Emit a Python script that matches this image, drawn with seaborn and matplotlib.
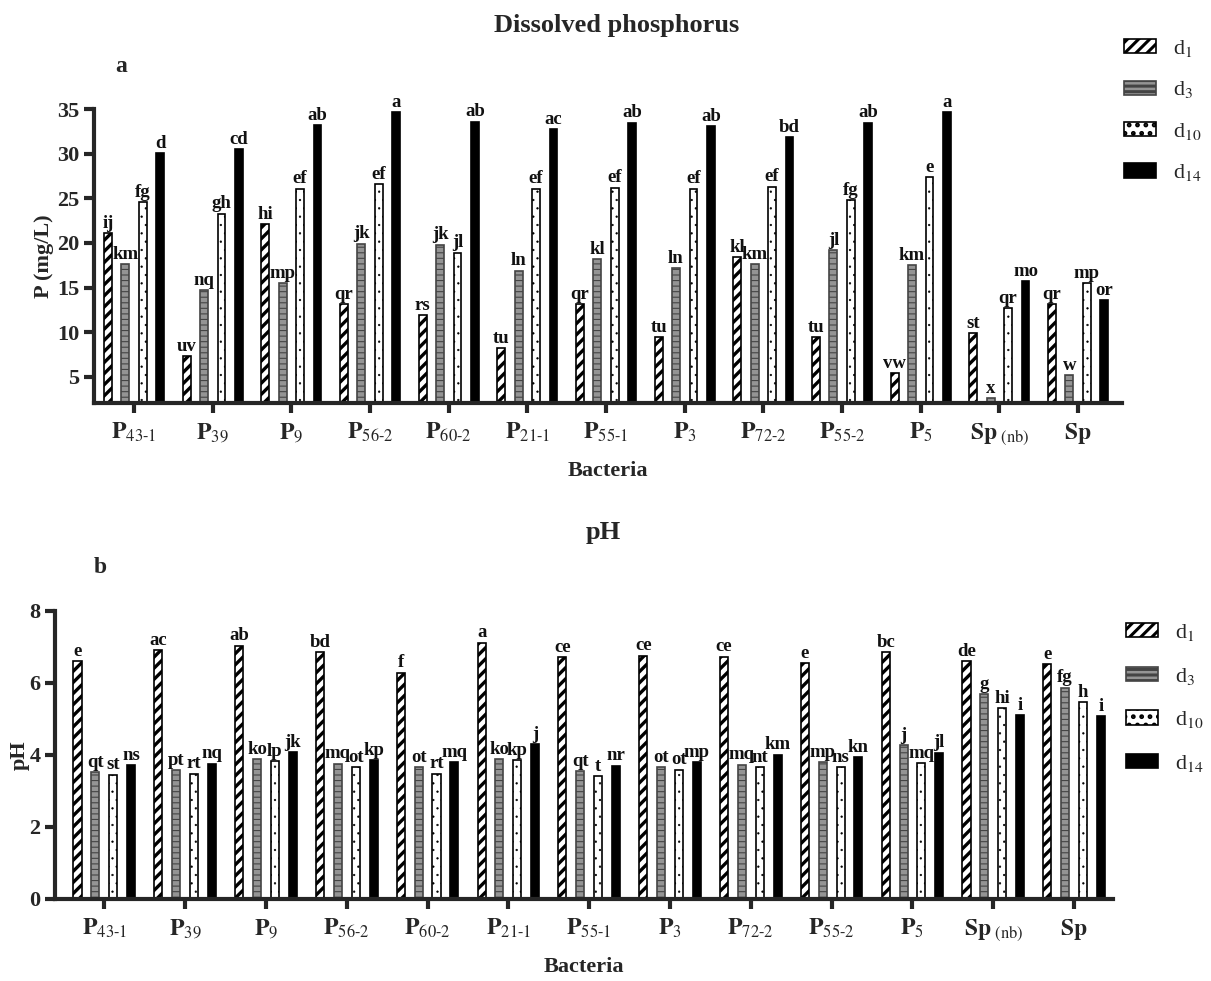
import matplotlib
matplotlib.use("Agg")
import matplotlib.pyplot as plt
import seaborn as sns
import pandas as pd

# bacteria strains (x axis)
bacteria = ["P43-1", "P39", "P9", "P56-2", "P60-2", "P21-1", "P55-1",
            "P3", "P72-2", "P55-2", "P5", "Sp (nb)", "Sp"]
tick_labels = [r"$\mathbf{P}_{\mathrm{43\text{-}1}}$", r"$\mathbf{P}_{\mathrm{39}}$",
               r"$\mathbf{P}_{\mathrm{9}}$", r"$\mathbf{P}_{\mathrm{56\text{-}2}}$",
               r"$\mathbf{P}_{\mathrm{60\text{-}2}}$", r"$\mathbf{P}_{\mathrm{21\text{-}1}}$",
               r"$\mathbf{P}_{\mathrm{55\text{-}1}}$", r"$\mathbf{P}_{\mathrm{3}}$",
               r"$\mathbf{P}_{\mathrm{72\text{-}2}}$", r"$\mathbf{P}_{\mathrm{55\text{-}2}}$",
               r"$\mathbf{P}_{\mathrm{5}}$", r"$\mathbf{Sp}_{\ \mathrm{(nb)}}$",
               r"$\mathbf{Sp}$"]
days = ["d1", "d3", "d10", "d14"]
day_labels = [r"d$_{1}$", r"d$_{3}$", r"d$_{10}$", r"d$_{14}$"]

# dissolved phosphorus (mg/L)
p_d1 = [21.1, 7.3, 22.1, 13.1, 11.9, 8.2, 13.1, 9.4, 18.4, 9.4, 5.4, 9.9, 13.1]
p_d3 = [17.6, 14.7, 15.5, 19.9, 19.8, 16.9, 18.2, 17.2, 17.6, 19.2, 17.5, 2.6, 5.2]
p_d10 = [24.6, 23.3, 26.1, 26.6, 18.9, 26.1, 26.2, 26.1, 26.3, 24.8, 27.4, 12.7, 15.5]
p_d14 = [30.1, 30.5, 33.2, 34.7, 33.6, 32.8, 33.5, 33.1, 31.9, 33.5, 34.7, 15.7, 13.6]

p_let_d1 = ["ij", "uv", "hi", "qr", "rs", "tu", "qr", "tu", "kl", "tu", "vw", "st", "qr"]
p_let_d3 = ["km", "nq", "mp", "jk", "jk", "ln", "kl", "ln", "km", "jl", "km", "x", "w"]
p_let_d10 = ["fg", "gh", "ef", "ef", "jl", "ef", "ef", "ef", "ef", "fg", "e", "qr", "mp"]
p_let_d14 = ["d", "cd", "ab", "a", "ab", "ac", "ab", "ab", "bd", "ab", "a", "mo", "or"]

# pH
ph_d1 = [6.59, 6.90, 7.03, 6.85, 6.28, 7.11, 6.71, 6.75, 6.72, 6.55, 6.85, 6.59, 6.52]
ph_d3 = [3.51, 3.58, 3.88, 3.75, 3.65, 3.88, 3.55, 3.66, 3.73, 3.80, 4.27, 5.68, 5.86]
ph_d10 = [3.45, 3.48, 3.82, 3.65, 3.48, 3.85, 3.40, 3.59, 3.66, 3.66, 3.76, 5.29, 5.46]
ph_d14 = [3.72, 3.75, 4.08, 3.85, 3.79, 4.29, 3.70, 3.80, 4.00, 3.94, 4.06, 5.10, 5.08]

ph_let_d1 = ["e", "ac", "ab", "bd", "f", "a", "ce", "ce", "ce", "e", "bc", "de", "e"]
ph_let_d3 = ["qt", "pt", "ko", "mq", "ot", "ko", "qt", "ot", "mq", "mp", "j", "g", "fg"]
ph_let_d10 = ["st", "rt", "lp", "ot", "rt", "kp", "t", "ot", "nt", "ns", "mq", "hi", "h"]
ph_let_d14 = ["ns", "nq", "jk", "kp", "mq", "j", "nr", "mp", "km", "kn", "jl", "i", "i"]

sns.set_style("ticks")
plt.rcParams["font.family"] = ["Liberation Serif", "DejaVu Serif"]
plt.rcParams["mathtext.fontset"] = "stix"
plt.rcParams["hatch.linewidth"] = 2.2

faces = {"d1": "white", "d3": "#949494", "d10": "white", "d14": "black"}
edges = {"d1": "black", "d3": "#444444", "d10": "black", "d14": "black"}
hatches = {"d1": "///", "d3": "---", "d10": "..", "d14": None}
hatch_lw = {"d1": 2.4, "d3": 0.8, "d10": 0.4, "d14": 1.0}


def long_frame(series):
    rows = []
    for d, vals in zip(days, series):
        for b, v in zip(bacteria, vals):
            rows.append({"bacteria": b, "day": d, "value": v})
    return pd.DataFrame(rows)


def draw_panel(ax, df, letters):
    sns.barplot(data=df, x="bacteria", y="value", hue="day", order=bacteria,
                hue_order=days, palette=faces, width=0.884, gap=0.55,
                errorbar=None, legend=False, linewidth=1.2, ax=ax)
    for d, cont, labs in zip(days, ax.containers, letters):
        for bar in cont:
            bar.set_edgecolor(edges[d])
            if hatches[d]:
                bar.set_hatch(hatches[d])
                if hasattr(bar, "set_hatch_linewidth"):
                    bar.set_hatch_linewidth(hatch_lw[d])
        ax.bar_label(cont, labels=labs, padding=1, fontsize=13.5,
                     fontweight="bold", color="#111111")
    ax.set_xticks(range(len(bacteria)))
    ax.set_xticklabels(tick_labels, fontsize=17)
    for s in ["top", "right"]:
        ax.spines[s].set_visible(False)
    for s in ["left", "bottom"]:
        ax.spines[s].set_linewidth(3)
    ax.tick_params(width=3, length=7, labelsize=16)
    ax.tick_params(axis="x", labelsize=17, pad=6)
    ax.set_xlabel("Bacteria", fontsize=16, fontweight="bold", labelpad=10)


fig = plt.figure(figsize=(12.11, 9.81), dpi=100)

# panel a
ax1 = fig.add_axes([0.0776, 0.5892, 0.849, 0.2994])
draw_panel(ax1, long_frame([p_d1, p_d3, p_d10, p_d14]),
           [p_let_d1, p_let_d3, p_let_d10, p_let_d14])
ax1.set_ylim(2.05, 35)
ax1.set_yticks([5, 10, 15, 20, 25, 30, 35])
ax1.set_xlim(-0.51, 12.56)
ax1.set_ylabel("P (mg/L)", fontsize=16, fontweight="bold", labelpad=2)
for t in ax1.get_yticklabels():
    t.set_fontweight("bold")

# panel b
ax2 = fig.add_axes([0.0454, 0.0836, 0.8736, 0.2939])
draw_panel(ax2, long_frame([ph_d1, ph_d3, ph_d10, ph_d14]),
           [ph_let_d1, ph_let_d3, ph_let_d10, ph_let_d14])
ax2.set_ylim(0, 8)
ax2.set_yticks([0, 2, 4, 6, 8])
ax2.set_xlim(-0.61, 12.48)
ax2.set_ylabel("pH", fontsize=16, fontweight="bold", labelpad=0)
for t in ax2.get_yticklabels():
    t.set_fontweight("bold")

fig.text(0.5095, 0.9745, "Dissolved phosphorus", ha="center", va="center",
         fontsize=19, fontweight="bold")
fig.text(0.0999, 0.9327, "a", ha="center", va="center", fontsize=17, fontweight="bold")
fig.text(0.498, 0.4567, "pH", ha="center", va="center", fontsize=19, fontweight="bold")
fig.text(0.0826, 0.422, "b", ha="center", va="center", fontsize=17, fontweight="bold")

for ax, anchor, sp in [(ax1, (1124 / 1211, 1 - 38 / 981), 0.92),
                       (ax2, (1126 / 1211, 1 - 622 / 981), 1.02)]:
    handles = list(ax.containers)
    fig.legend(handles, day_labels, loc="upper left", bbox_to_anchor=anchor,
               frameon=False, fontsize=16, handlelength=1.45, handleheight=0.6,
               handletextpad=0.75, labelspacing=sp, borderpad=0, borderaxespad=0)

fig.savefig("out.png", dpi=100)
